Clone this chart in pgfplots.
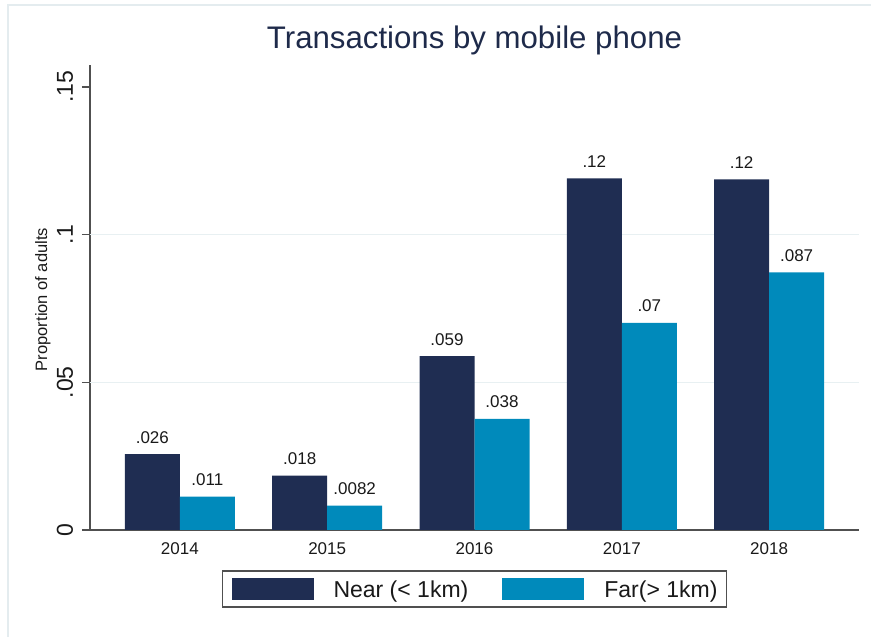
\documentclass[border=0pt]{standalone}
\usepackage{pgfplots}
\pgfplotsset{compat=1.18}
\usepackage{fontspec}
\setmainfont{Liberation Sans}
\definecolor{navy}{RGB}{31,45,82}
\definecolor{cyanb}{RGB}{0,138,187}
\definecolor{gridc}{RGB}{232,240,242}
\definecolor{framec}{RGB}{228,236,239}
\definecolor{titlec}{RGB}{30,42,74}
\definecolor{axisc}{RGB}{80,80,80}
\definecolor{txtc}{RGB}{25,25,25}
\begin{document}
\begin{tikzpicture}
\begin{axis}[
  name=ax,
  scale only axis, width=769pt, height=465pt,
  xmin=-0.61, xmax=4.61, ymin=0, ymax=0.15745,
  axis lines=left, axis line style={axisc, line width=1.2pt, -},
  ybar=0pt, bar width=55pt,
  xtick={0,1,2,3,4}, xticklabels={2014,2015,2016,2017,2018},
  x tick style={draw=none},
  ytick={0,0.05,0.1,0.15}, yticklabels={0,.05,.1,.15},
  y tick style={axisc, line width=1.2pt}, tick align=outside, major tick length=8pt,
  yticklabel style={xshift=-9pt, rotate=90, anchor=base, font=\fontsize{23}{23}\selectfont, text=txtc},
  xticklabel style={yshift=-17pt, anchor=base, font=\fontsize{17}{17}\selectfont, text=txtc},
  title={Transactions by mobile phone},
  title style={at={(axis description cs:0.5,1)}, anchor=base, yshift=10pt, font=\fontsize{31.2}{31.2}\selectfont, text=titlec},
  ylabel={Proportion of adults},
  ylabel style={at={(axis description cs:-0.0559,0.4957)}, anchor=base, font=\fontsize{16.5}{16.5}\selectfont, text=txtc},
  nodes near coords,
  point meta=explicit symbolic,
  nodes near coords style={anchor=base, yshift=11pt, font=\fontsize{17}{17}\selectfont, text=txtc},
  legend columns=2,
  legend image code/.code={\fill[#1] (0pt,-10pt) rectangle (82pt,12pt);},
  legend style={at={(axis description cs:0.5,-0.127)}, anchor=center, draw=axisc, line width=1.2pt,
    inner xsep=9pt, inner ysep=7pt,
    nodes={inner sep=0pt, font=\fontsize{23}{23}\selectfont, text=txtc},
    /tikz/every odd column/.append style={column sep=20pt},
    /tikz/every even column/.append style={column sep=34pt}},
  clip=false,
]
\draw[gridc, line width=1.2pt] (axis cs:-0.61,0.05) -- (axis cs:4.61,0.05);
\draw[gridc, line width=1.2pt] (axis cs:-0.61,0.1) -- (axis cs:4.61,0.1);
\addplot[fill=navy, draw=none] coordinates {
  (0,0.02573) [.026]
  (1,0.01839) [.018]
  (2,0.0589) [.059]
  (3,0.1191) [.12]
  (4,0.11875) [.12]
};
\addplot[fill=cyanb, draw=none] coordinates {
  (0,0.01128) [.011]
  (1,0.00823) [.0082]
  (2,0.0376) [.038]
  (3,0.0701) [.07]
  (4,0.08726) [.087]
};
\legend{Near (< 1km), Far(> 1km)}
\end{axis}
\draw[framec, line width=2pt] ([shift={(-82pt,-107pt)}]ax.south west) -- ([shift={(-82pt,525pt)}]ax.south west) -- ([shift={(781pt,525pt)}]ax.south west);
\pgfresetboundingbox
\useasboundingbox ([shift={(-90pt,-107pt)}]ax.south west) rectangle ([shift={(781pt,530pt)}]ax.south west);
\end{tikzpicture}
\end{document}
